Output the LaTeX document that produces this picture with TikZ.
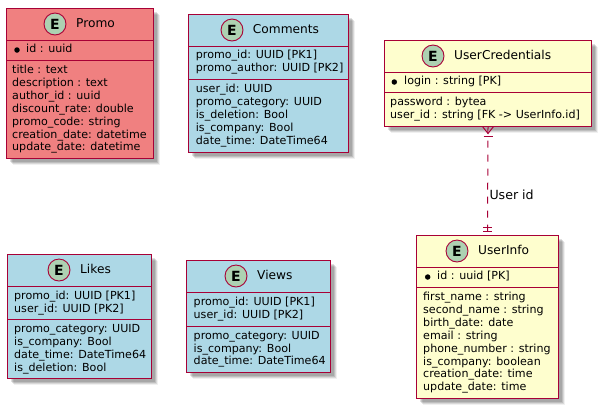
\documentclass[tikz,border=0pt]{standalone}
\usepackage{fontspec}
\setmainfont{DejaVu Sans}
\usetikzlibrary{shadows}
\definecolor{umlline}{HTML}{A80036}
\definecolor{umlbadge}{HTML}{ADD1B2}
\definecolor{umlyellow}{HTML}{FEFECE}
\definecolor{umlblue}{HTML}{ADD8E6}
\definecolor{umlred}{HTML}{F08080}
\tikzset{
    EB/.style ={rectangle,draw=umlline,line width=1.5pt,inner sep=0pt,outer sep=0pt,
        drop shadow={shadow xshift=6pt,shadow yshift=-6pt,fill=black,opacity=.06},
        drop shadow={shadow xshift=5pt,shadow yshift=-5pt,fill=black,opacity=.1},
        drop shadow={shadow xshift=4pt,shadow yshift=-4pt,fill=black,opacity=.12},
        drop shadow={shadow xshift=3pt,shadow yshift=-3pt,fill=black,opacity=.12}},
    BD/.style ={circle,minimum size=22pt,inner sep=0pt,draw=umlline,line width=.9pt,fill=umlbadge,font=\fontsize{14}{14}\bfseries},
    TT/.style ={anchor=west,inner sep=0pt,font=\fontsize{12.2}{14}\selectfont,text height=9pt,text depth=3pt},
    FD/.style ={anchor=west,inner sep=0pt,font=\fontsize{11.1}{12}\selectfont,text height=8pt,text depth=2.5pt},
    DT/.style ={circle,fill=black,inner sep=0pt,minimum size=5.5pt},
    HL/.style ={draw=umlline,line width=1.5pt},
    SL/.style ={draw=umlline,line width=1pt},
    RL/.style ={draw=umlline,line width=1pt}}
\begin{document}
\begin{tikzpicture}[x=1pt,y=-1pt]
    \useasboundingbox (0,0) rectangle (601,408);
    % Promo
    \node[EB,fill=umlred,minimum width=147pt,minimum height=150pt] (Promo) at (80,83.5){};
    \node[BD] (PromoBadge) at (55,24){E};
    \node[TT] (PromoTitle) at (76,24){Promo};
    \draw[HL] (6.5,40.5) -- (153.5,40.5);
    \draw[SL] (6.5,60.5) -- (153.5,60.5);
    \node[DT] (PromoDot) at (17,50){};
    \node[FD] (PromoKey) at (26,50){id : uuid};
    \foreach \t [count=\i from 0] in {title : text,description : text,author\_id : uuid,discount\_rate: double,promo\_code: string,creation\_date: datetime,update\_date: datetime}{
        \node[FD] (PromoF\i) at (12,71+12.85*\i){\t};}
    % Comments
    \node[EB,fill=umlblue,minimum width=160pt,minimum height=138pt] (Comments) at (268.5,83.5){};
    \node[BD] (CommentsBadge) at (232,30){E};
    \node[TT] (CommentsTitle) at (252.7,30){Comments};
    \draw[HL] (188.5,46.5) -- (348.5,46.5);
    \draw[SL] (188.5,79.5) -- (348.5,79.5);
    \foreach \t [count=\i from 0] in {promo\_id: UUID [PK1],promo\_author: UUID [PK2]}{
        \node[FD] (CommentsK\i) at (195.7,56+12.85*\i){\t};}
    \foreach \t [count=\i from 0] in {user\_id: UUID,promo\_category: UUID,is\_deletion: Bool,is\_company: Bool,date\_time: DateTime64}{
        \node[FD] (CommentsF\i) at (195.7,90+12.85*\i){\t};}
    % UserCredentials
    \node[EB,fill=umlyellow,minimum width=207pt,minimum height=86pt] (UserCredentials) at (488,83.5){};
    \node[BD] (CredentialsBadge) at (433,56){E};
    \node[TT] (CredentialsTitle) at (454,56){UserCredentials};
    \draw[HL] (384.5,72.5) -- (591.5,72.5);
    \draw[SL] (384.5,92.5) -- (591.5,92.5);
    \node[DT] (CredentialsDot) at (394.3,82){};
    \node[FD] (CredentialsKey) at (404,82){login : string [PK]};
    \node[FD] (CredentialsF0) at (390,103){password : bytea};
    \node[FD] (CredentialsF1) at (390,116){user\_id : string [FK -> UserInfo.id]};
    % UserInfo
    \node[EB,fill=umlyellow,minimum width=142pt,minimum height=163pt] (UserInfo) at (487.5,317){};
    \node[BD] (InfoBadge) at (457,251){E};
    \node[TT] (InfoTitle) at (478,251){UserInfo};
    \draw[HL] (416.5,267.5) -- (558.5,267.5);
    \draw[SL] (416.5,287.5) -- (558.5,287.5);
    \node[DT] (InfoDot) at (427.7,277){};
    \node[FD] (InfoKey) at (437,277){id : uuid [PK]};
    \foreach \t [count=\i from 0] in {first\_name : string,second\_name : string,birth\_date: date,email : string,phone\_number : string,is\_company: boolean,creation\_date: time,update\_date: time}{
        \node[FD] (InfoF\i) at (423,298+12.85*\i){\t};}
    % Likes
    \node[EB,fill=umlblue,minimum width=144pt,minimum height=124pt] (Likes) at (79.5,316.5){};
    \node[BD] (LikesBadge) at (59,270){E};
    \node[TT] (LikesTitle) at (80,270){Likes};
    \draw[HL] (7.5,286.5) -- (151.5,286.5);
    \draw[SL] (7.5,319.5) -- (151.5,319.5);
    \foreach \t [count=\i from 0] in {promo\_id: UUID [PK1],user\_id: UUID [PK2]}{
        \node[FD] (LikesK\i) at (14,296.5+12.85*\i){\t};}
    \foreach \t [count=\i from 0] in {promo\_category: UUID,is\_company: Bool,date\_time: DateTime64,is\_deletion: Bool}{
        \node[FD] (LikesF\i) at (14,330+12.85*\i){\t};}
    % Views
    \node[EB,fill=umlblue,minimum width=144pt,minimum height=112pt] (Views) at (258.5,316.5){};
    \node[BD] (ViewsBadge) at (236,276){E};
    \node[TT] (ViewsTitle) at (257,276){Views};
    \draw[HL] (186.5,292.5) -- (330.5,292.5);
    \draw[SL] (186.5,326.5) -- (330.5,326.5);
    \foreach \t [count=\i from 0] in {promo\_id: UUID [PK1],user\_id: UUID [PK2]}{
        \node[FD] (ViewsK\i) at (193.5,303+12.85*\i){\t};}
    \foreach \t [count=\i from 0] in {promo\_category: UUID,is\_company: Bool,date\_time: DateTime64}{
        \node[FD] (ViewsF\i) at (193.5,336.5+12.85*\i){\t};}
    % relation
    \draw[RL,dashed,dash pattern=on 7pt off 7pt] (UserCredentials.south) -- (UserInfo.north);
    \draw[RL] ([xshift=-5.5pt]UserCredentials.south) -- ([yshift=-7pt]UserCredentials.south) -- ([xshift=5.5pt]UserCredentials.south);
    \draw[RL] ([xshift=-4.5pt,yshift=-9.5pt]UserCredentials.south) -- ([xshift=4.5pt,yshift=-9.5pt]UserCredentials.south);
    \draw[RL] ([xshift=-4.5pt,yshift=4pt]UserInfo.north) -- ([xshift=4.5pt,yshift=4pt]UserInfo.north);
    \draw[RL] ([xshift=-4.5pt,yshift=8.5pt]UserInfo.north) -- ([xshift=4.5pt,yshift=8.5pt]UserInfo.north);
    \node[FD,font=\fontsize{12.6}{14}\selectfont] (RelLabel) at (489.3,196.7){User id};
\end{tikzpicture}
\end{document}
